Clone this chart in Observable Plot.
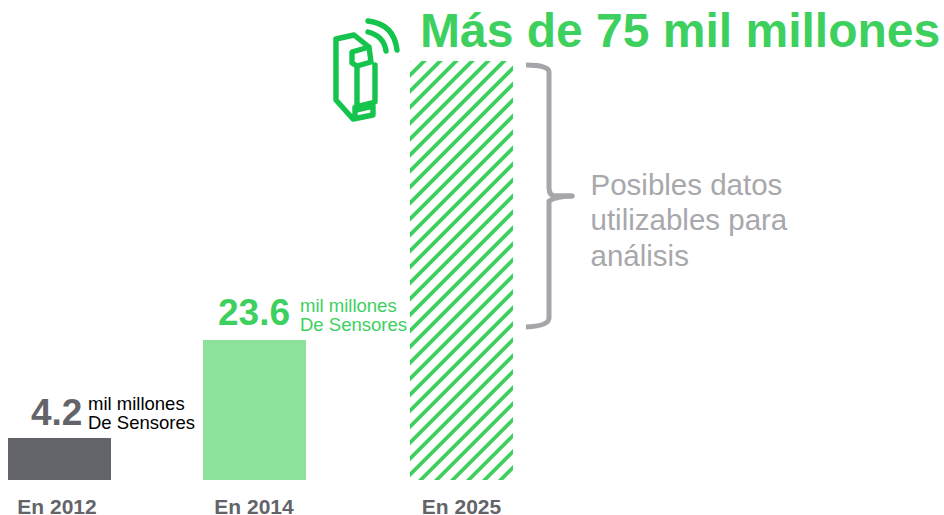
<!DOCTYPE html>
<html><head><meta charset="utf-8">
<script src="https://cdn.jsdelivr.net/npm/d3@7"></script>
<script src="https://cdn.jsdelivr.net/npm/@observablehq/plot@0.6"></script>
<style>html,body{margin:0;padding:0;background:#fff}svg{display:block}</style>
</head><body><div id="c"></div>
<script>
const categories = ["En 2012", "En 2014", "En 2025"];
const sensors = [4.2, 23.6, 75];
const headline = "Más de 75 mil millones";
const unitLine1 = "mil millones";
const unitLine2 = "De Sensores";
const noteLines = ["Posibles datos", "utilizables para", "análisis"];

const GREEN = "#3dd05f", LIGHT = "#8de29b", DARK = "#636469", GREY = "#a7a8ac", FONT = "'Liberation Sans', Arial, sans-serif";
const rows = categories.map((c, i) => ({c, v: sensors[i]}));
const r2012 = [rows[0]], r2014 = [rows[1]], r2025 = [rows[2]];

// the reference's bars are not proportional: piecewise value axis
const piecewise = d3.scaleLinear().domain([0, 4.2, 23.6, 75]).range([480, 438, 340, 61]);

const defsMark = () => {
  const g = d3.create("svg:g");
  const p = g.append("defs").append("pattern").attr("id", "hatch").attr("patternUnits", "userSpaceOnUse")
    .attr("width", 11.3).attr("height", 11.3).attr("patternTransform", "translate(421.5,61) rotate(45)");
  p.append("rect").attr("width", 3.8).attr("height", 11.3).attr("fill", GREEN);
  return g.node();
};
const decorMark = () => {
  const g = d3.create("svg:g").attr("fill", "none").attr("stroke-linecap", "round").attr("stroke-linejoin", "round");
  g.append("path").attr("stroke", "#14c44c").attr("stroke-width", 5.4).attr("d",
    "M368,21Q394,24 397,50M368,32Q384,36 386,51" +
    "M336,39L354,35L369,47M336,39V100L353,119L373,115V106L356,110" +
    "M352,52L369,47L371,62L357,66L352,63ZM357,66V108M375,65V102L355,107V118");
  g.append("path").attr("stroke", "#a5a6aa").attr("stroke-width", 5).attr("stroke-linecap", "butt").attr("d",
    "M526,65Q549,65 549,72V188Q549,196 556,196H572Q557,196 549,201V318Q549,326 526,327");
  g.append("path").attr("stroke", "#a5a6aa").attr("stroke-width", 5).attr("d", "M556,196H572");
  return g.node();
};

const txt = (data, text, o) => Plot.text(data, {text, fontFamily: FONT, textAnchor: "start", lineAnchor: "bottom", ...o});
const tick = (data, dx) => Plot.text(data, {x: "c", y: 0, text: "c", dx, dy: 26.5, fill: DARK, fontFamily: FONT, fontWeight: "bold", fontSize: 21});

const chart = Plot.plot({
  width: 944, height: 515, margin: 0,
  style: {background: "#fff", overflow: "visible"},
  x: {type: "band", domain: categories, range: [8, 513], paddingInner: 0.4876, paddingOuter: 0, axis: null},
  y: {type: "linear", transform: piecewise, domain: [61, 480], range: [61, 480], axis: null},
  marks: [
    defsMark,
    Plot.barY(r2012, {x: "c", y: "v", fill: DARK}),
    Plot.barY(r2014, {x: "c", y: "v", fill: LIGHT, dx: -6}),
    Plot.barY(r2025, {x: "c", y: "v", fill: "url(#hatch)"}),
    decorMark,
    tick(r2012, -3), tick(r2014, -7), tick(r2025, -0.5),
    txt(r2012, d => d.v.toFixed(1), {x: "c", y: "v", dx: -29, dy: -14, fill: DARK, fontWeight: "bold", fontSize: 37}),
    txt(r2012, () => unitLine1, {x: "c", y: "v", dx: 28, dy: -29, fill: "#000", fontSize: 18.5}),
    txt(r2012, () => unitLine2, {x: "c", y: "v", dx: 28, dy: -10, fill: "#000", fontSize: 18.5}),
    txt(r2014, d => d.v.toFixed(1), {x: "c", y: "v", dx: -43, dy: -15.5, fill: GREEN, fontWeight: "bold", fontSize: 37}),
    txt(r2014, () => unitLine1, {x: "c", y: "v", dx: 39, dy: -29, fill: GREEN, fontSize: 18.5}),
    txt(r2014, () => unitLine2, {x: "c", y: "v", dx: 39, dy: -10, fill: GREEN, fontSize: 18.5}),
    txt(r2025, () => headline, {x: "c", y: "v", dx: -42, dy: -15, fill: GREEN, fontWeight: "bold", fontSize: 48}),
    ...noteLines.map((t, i) => Plot.text([t], {text: d => d, frameAnchor: "top-left", dx: 590, dy: 173.5 + i * 35.5,
      lineAnchor: "top", textAnchor: "start", fontFamily: FONT, fontSize: 29.5, fill: GREY}))
  ]
});
document.getElementById("c").append(chart);
</script></body></html>
